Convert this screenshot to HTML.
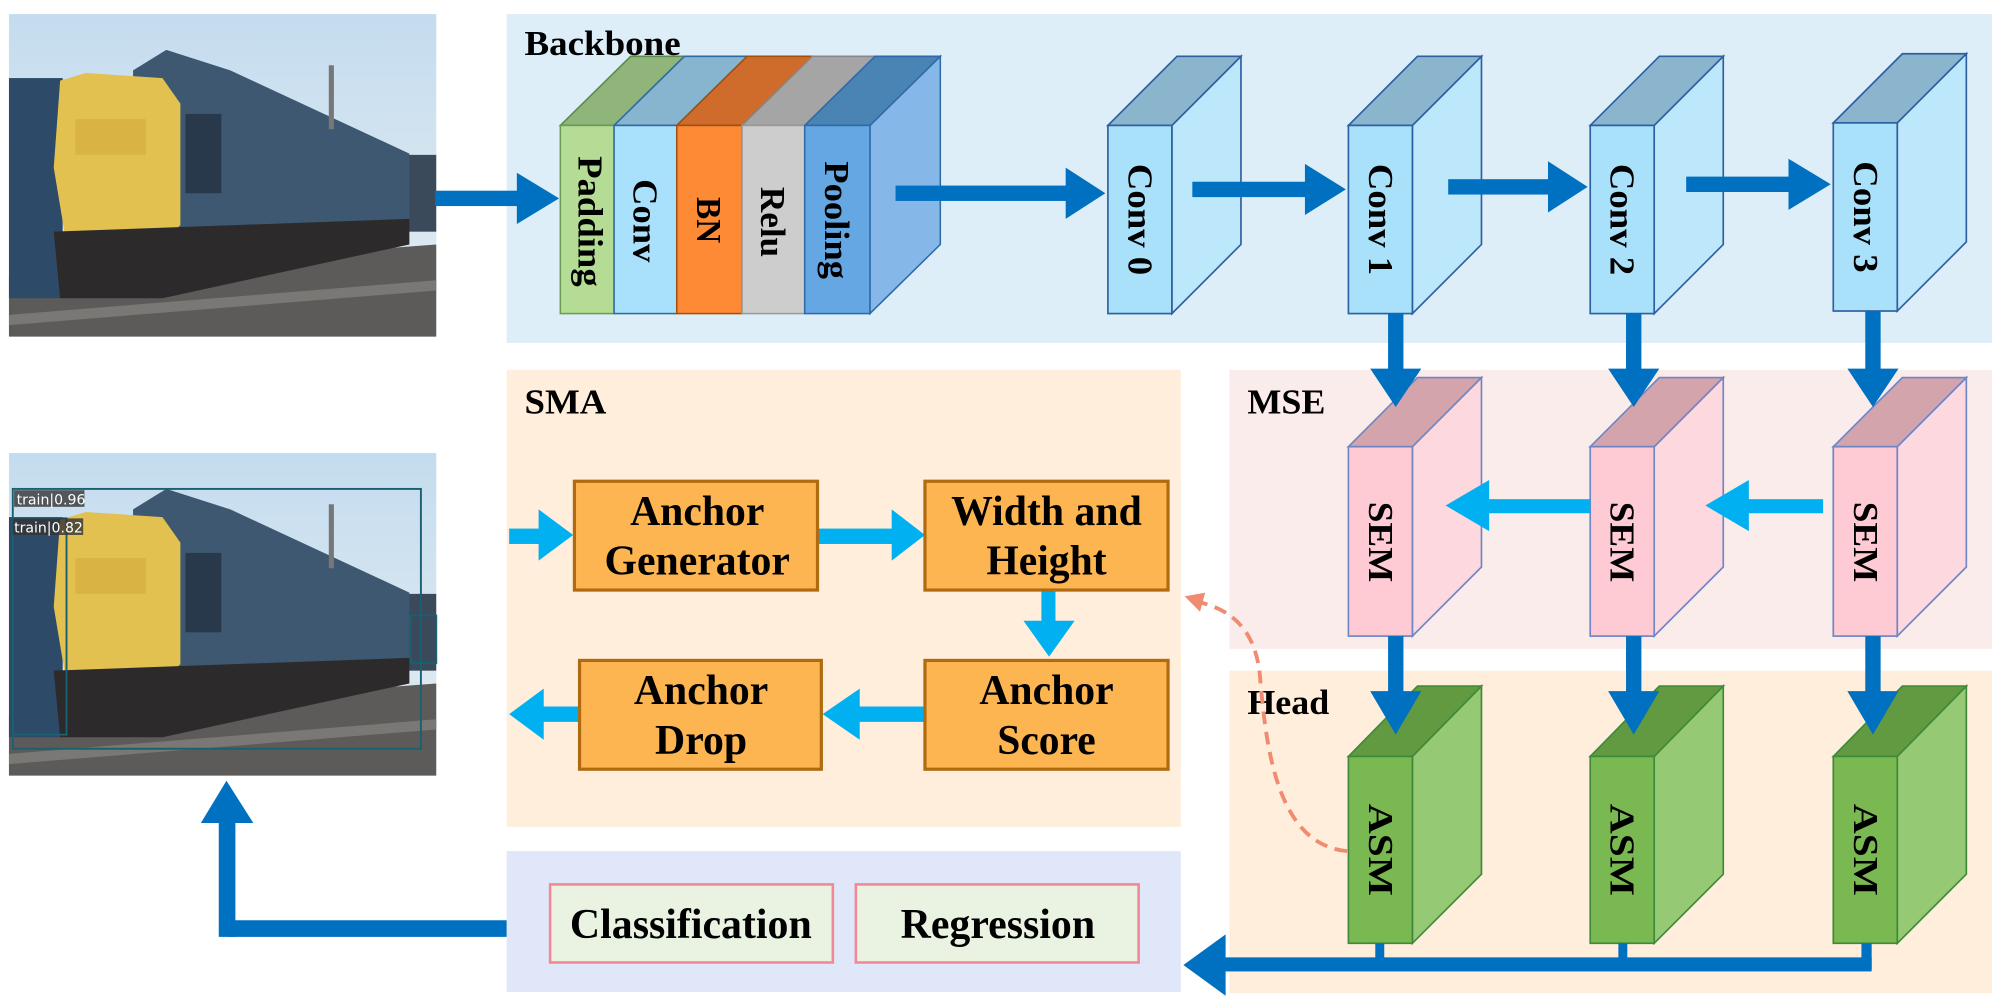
<!DOCTYPE html>
<html><head><meta charset="utf-8"><style>
html,body{margin:0;padding:0;background:#fff;}
svg{display:block;}
text{font-family:"Liberation Serif",serif;font-weight:bold;fill:#000;}
</style></head><body>
<svg width="2006" height="1006" viewBox="0 0 1568 786" preserveAspectRatio="none" xmlns="http://www.w3.org/2000/svg">
<defs>
<linearGradient id="sky" x1="0" y1="0" x2="0" y2="1"><stop offset="0" stop-color="#c4dcef"/><stop offset="1" stop-color="#e6eef2"/></linearGradient>
<g id="photo">
<rect x="0" y="0" width="334" height="252" fill="url(#sky)"/>
<polygon points="0,205 334,180 334,252 0,252" fill="#5d5b59"/>
<polygon points="0,235 334,208 334,216 0,243" fill="#7a7874"/>
<rect x="0" y="50" width="42" height="172" fill="#2d4a68"/>
<rect x="300" y="110" width="34" height="60" fill="#3a4a5a"/>
<polygon points="97,44 123,28 173,44 313,109 313,165 134,190 97,165" fill="#3d5870"/>
<polygon points="40,52 60,46 120,50 134,70 134,165 110,185 45,180 35,120" fill="#e2c150"/>
<rect x="52" y="82" width="55" height="28" fill="#d9b445"/>
<polygon points="35,170 313,160 313,180 120,222 40,222" fill="#2c2a2a"/>
<rect x="138" y="78" width="28" height="62" fill="#27394a"/>
<rect x="250" y="40" width="4" height="50" fill="#777"/>
</g>
</defs>

<!-- Panels -->
<rect x="396" y="11" width="1161" height="257" fill="#ddeef8"/>
<rect x="396" y="289" width="527" height="357" fill="#feeedb"/>
<rect x="961" y="289" width="596" height="218" fill="#fbecec"/>
<rect x="961" y="524" width="596" height="252" fill="#feeedb"/>
<rect x="396" y="665" width="527" height="110" fill="#dfe7f8"/>

<text x="410" y="43" font-size="27" textLength="122" lengthAdjust="spacingAndGlyphs">Backbone</text>
<text x="410" y="323" font-size="27" textLength="64" lengthAdjust="spacingAndGlyphs">SMA</text>
<text x="975" y="323" font-size="27" textLength="61" lengthAdjust="spacingAndGlyphs">MSE</text>
<text x="975" y="558" font-size="27" textLength="64" lengthAdjust="spacingAndGlyphs">Head</text>

<!-- Photos -->
<g transform="translate(7,11)"><use href="#photo"/></g>
<g transform="translate(7,354)"><use href="#photo"/>
<rect x="3" y="28" width="319" height="203" fill="none" stroke="#1a6070" stroke-width="1.5"/>
<rect x="3" y="51" width="42" height="169" fill="none" stroke="#1a6070" stroke-width="1.5"/>
<rect x="314" y="127" width="20" height="37" fill="none" stroke="#1a6070" stroke-width="1.5"/>
<rect x="4" y="29" width="55" height="13" fill="#333" opacity="0.8"/>
<text x="6" y="40" font-size="11" style="font-family:'DejaVu Sans',sans-serif;font-weight:normal;fill:#fff">train|0.96</text>
<rect x="3" y="51" width="55" height="13" fill="#333" opacity="0.8"/>
<text x="4" y="62" font-size="11" style="font-family:'DejaVu Sans',sans-serif;font-weight:normal;fill:#fff">train|0.82</text>
</g>

<!-- Backbone big block -->
<g stroke-width="1.2">
<polygon points="680,98 735,44 735,191 680,245" fill="#85b8e8" stroke="#2e6aa8"/>
<polygon points="438,98 493,44 535,44 480,98" fill="#8fb57a" stroke="#5c8a4a"/>
<polygon points="480,98 535,44 584,44 529,98" fill="#87b5cf" stroke="#2e6aa8"/>
<polygon points="529,98 584,44 635,44 580,98" fill="#cf6c2c" stroke="#a05010"/>
<polygon points="580,98 635,44 684,44 629,98" fill="#a5a5a5" stroke="#888"/>
<polygon points="629,98 684,44 735,44 680,98" fill="#4a84b4" stroke="#2e6aa8"/>
<rect x="438" y="98" width="42" height="147" fill="#b5dc95" stroke="#6a9a55"/>
<rect x="480" y="98" width="49" height="147" fill="#a9e0fb" stroke="#2e6aa8"/>
<rect x="529" y="98" width="51" height="147" fill="#fe8a36" stroke="#a05010"/>
<rect x="580" y="98" width="49" height="147" fill="#cdcdcd" stroke="#999"/>
<rect x="629" y="98" width="51" height="147" fill="#64a7e2" stroke="#2e6aa8"/>
</g>
<g font-size="27">
<text transform="translate(452,122) rotate(90)" textLength="102" lengthAdjust="spacingAndGlyphs">Padding</text>
<text transform="translate(495,140) rotate(90)" textLength="65" lengthAdjust="spacingAndGlyphs">Conv</text>
<text transform="translate(545,154) rotate(90)" textLength="36" lengthAdjust="spacingAndGlyphs">BN</text>
<text transform="translate(595,146) rotate(90)" textLength="55" lengthAdjust="spacingAndGlyphs">Relu</text>
<text transform="translate(645,126) rotate(90)" textLength="92" lengthAdjust="spacingAndGlyphs">Pooling</text>
</g>

<!-- Conv / SEM / ASM blocks -->
<g stroke-width="1.3">
<polygon points="916,98 970,44 970,191 916,245" fill="#bde7fb" stroke="#2e5fa0"/>
<polygon points="866,98 920,44 970,44 916,98" fill="#8ab5cd" stroke="#2e5fa0"/>
<rect x="866" y="98" width="50" height="147" fill="#a9e1fb" stroke="#2e5fa0"/>
<polygon points="1104,98 1158,44 1158,191 1104,245" fill="#bde7fb" stroke="#2e5fa0"/>
<polygon points="1054,98 1108,44 1158,44 1104,98" fill="#8ab5cd" stroke="#2e5fa0"/>
<rect x="1054" y="98" width="50" height="147" fill="#a9e1fb" stroke="#2e5fa0"/>
<polygon points="1293,98 1347,44 1347,191 1293,245" fill="#bde7fb" stroke="#2e5fa0"/>
<polygon points="1243,98 1297,44 1347,44 1293,98" fill="#8ab5cd" stroke="#2e5fa0"/>
<rect x="1243" y="98" width="50" height="147" fill="#a9e1fb" stroke="#2e5fa0"/>
<polygon points="1483,96 1537,42 1537,189 1483,243" fill="#bde7fb" stroke="#2e5fa0"/>
<polygon points="1433,96 1487,42 1537,42 1483,96" fill="#8ab5cd" stroke="#2e5fa0"/>
<rect x="1433" y="96" width="50" height="147" fill="#a9e1fb" stroke="#2e5fa0"/>

<polygon points="1104,349 1158,295 1158,443 1104,497" fill="#fdd8df" stroke="#6f86c4"/>
<polygon points="1054,349 1108,295 1158,295 1104,349" fill="#d4a4ac" stroke="#6f86c4"/>
<rect x="1054" y="349" width="50" height="148" fill="#fecbd5" stroke="#6f86c4"/>
<polygon points="1293,349 1347,295 1347,443 1293,497" fill="#fdd8df" stroke="#6f86c4"/>
<polygon points="1243,349 1297,295 1347,295 1293,349" fill="#d4a4ac" stroke="#6f86c4"/>
<rect x="1243" y="349" width="50" height="148" fill="#fecbd5" stroke="#6f86c4"/>
<polygon points="1483,349 1537,295 1537,443 1483,497" fill="#fdd8df" stroke="#6f86c4"/>
<polygon points="1433,349 1487,295 1537,295 1483,349" fill="#d4a4ac" stroke="#6f86c4"/>
<rect x="1433" y="349" width="50" height="148" fill="#fecbd5" stroke="#6f86c4"/>

<polygon points="1104,591 1158,536 1158,683 1104,737" fill="#95c973" stroke="#3f8a3a"/>
<polygon points="1054,591 1108,536 1158,536 1104,591" fill="#629a41" stroke="#3f8a3a"/>
<rect x="1054" y="591" width="50" height="146" fill="#7ab851" stroke="#3f8a3a"/>
<polygon points="1293,591 1347,536 1347,683 1293,737" fill="#95c973" stroke="#3f8a3a"/>
<polygon points="1243,591 1297,536 1347,536 1293,591" fill="#629a41" stroke="#3f8a3a"/>
<rect x="1243" y="591" width="50" height="146" fill="#7ab851" stroke="#3f8a3a"/>
<polygon points="1483,591 1537,536 1537,683 1483,737" fill="#95c973" stroke="#3f8a3a"/>
<polygon points="1433,591 1487,536 1537,536 1483,591" fill="#629a41" stroke="#3f8a3a"/>
<rect x="1433" y="591" width="50" height="146" fill="#7ab851" stroke="#3f8a3a"/>
</g>
<g font-size="27">
<text transform="translate(882,128) rotate(90)" textLength="87" lengthAdjust="spacingAndGlyphs">Conv 0</text>
<text transform="translate(1070,128) rotate(90)" textLength="87" lengthAdjust="spacingAndGlyphs">Conv 1</text>
<text transform="translate(1259,128) rotate(90)" textLength="87" lengthAdjust="spacingAndGlyphs">Conv 2</text>
<text transform="translate(1449,126) rotate(90)" textLength="87" lengthAdjust="spacingAndGlyphs">Conv 3</text>
<text transform="translate(1070,392) rotate(90)" textLength="63" lengthAdjust="spacingAndGlyphs">SEM</text>
<text transform="translate(1259,392) rotate(90)" textLength="63" lengthAdjust="spacingAndGlyphs">SEM</text>
<text transform="translate(1449,392) rotate(90)" textLength="63" lengthAdjust="spacingAndGlyphs">SEM</text>
<text transform="translate(1070,628) rotate(90)" textLength="72" lengthAdjust="spacingAndGlyphs">ASM</text>
<text transform="translate(1259,628) rotate(90)" textLength="72" lengthAdjust="spacingAndGlyphs">ASM</text>
<text transform="translate(1449,628) rotate(90)" textLength="72" lengthAdjust="spacingAndGlyphs">ASM</text>
</g>

<!-- Dark blue arrows -->
<g fill="#0070c0">
<rect x="340" y="149" width="66" height="12"/><polygon points="404,135 437,155 404,175"/>
<rect x="700" y="145" width="135" height="12"/><polygon points="833,131 864,151 833,171"/>
<rect x="932" y="142" width="90" height="12"/><polygon points="1020,128 1052,148 1020,168"/>
<rect x="1132" y="140" width="80" height="12"/><polygon points="1210,126 1241,146 1210,166"/>
<rect x="1318" y="138" width="82" height="12"/><polygon points="1398,124 1431,144 1398,164"/>

<rect x="1085" y="245" width="12" height="45"/><polygon points="1071,288 1111,288 1091,318"/>
<rect x="1271" y="245" width="12" height="45"/><polygon points="1257,288 1297,288 1277,318"/>
<rect x="1458" y="243" width="12" height="47"/><polygon points="1444,288 1484,288 1464,318"/>

<rect x="1085" y="497" width="12" height="45"/><polygon points="1071,540 1111,540 1091,574"/>
<rect x="1271" y="497" width="12" height="45"/><polygon points="1257,540 1297,540 1277,574"/>
<rect x="1458" y="497" width="12" height="45"/><polygon points="1444,540 1484,540 1464,574"/>

<rect x="1075" y="737" width="7" height="20"/>
<rect x="1265" y="737" width="7" height="20"/>
<rect x="1455" y="737" width="8" height="20"/>
<rect x="950" y="748" width="513" height="11"/><polygon points="958,730 925,754 958,778"/>

<rect x="178" y="719" width="218" height="13"/>
<rect x="171" y="640" width="13" height="92"/>
<polygon points="157,643 198,643 177,610"/>
</g>

<!-- Light blue arrows -->
<g fill="#00b0f0">
<rect x="1160" y="390" width="83" height="11"/><polygon points="1164,375 1130,395 1164,415"/>
<rect x="1365" y="390" width="60" height="11"/><polygon points="1367,375 1333,395 1367,415"/>
<rect x="398" y="413" width="25" height="12"/><polygon points="421,398 448,418 421,438"/>
<rect x="639" y="413" width="60" height="12"/><polygon points="697,398 723,418 697,438"/>
<rect x="814" y="461" width="11" height="26"/><polygon points="800,485 840,485 820,513"/>
<rect x="670" y="552" width="53" height="12"/><polygon points="672,538 643,558 672,578"/>
<rect x="423" y="552" width="30" height="12"/><polygon points="425,538 398,558 425,578"/>
</g>

<!-- Dashed curve -->
<path d="M1053,665 C1000,660 990,590 985,530 C982,490 960,475 935,470" fill="none" stroke="#f08a70" stroke-width="3" stroke-dasharray="10,6"/>
<polygon points="926,466 942,463 938,478" fill="#f08a70"/>

<!-- SMA boxes -->
<g fill="#fdb551" stroke="#b06a10" stroke-width="2.5">
<rect x="449" y="376" width="190" height="85"/>
<rect x="723" y="376" width="190" height="85"/>
<rect x="453" y="516" width="189" height="85"/>
<rect x="723" y="516" width="190" height="85"/>
</g>
<g font-size="33" text-anchor="middle">
<text x="545" y="410" textLength="105" lengthAdjust="spacingAndGlyphs">Anchor</text>
<text x="545" y="449" textLength="145" lengthAdjust="spacingAndGlyphs">Generator</text>
<text x="818" y="410" textLength="149" lengthAdjust="spacingAndGlyphs">Width and</text>
<text x="818" y="449" textLength="94" lengthAdjust="spacingAndGlyphs">Height</text>
<text x="548" y="550" textLength="105" lengthAdjust="spacingAndGlyphs">Anchor</text>
<text x="548" y="589" textLength="72" lengthAdjust="spacingAndGlyphs">Drop</text>
<text x="818" y="550" textLength="105" lengthAdjust="spacingAndGlyphs">Anchor</text>
<text x="818" y="589" textLength="77" lengthAdjust="spacingAndGlyphs">Score</text>
</g>

<!-- Classification / Regression -->
<g fill="#eaf3e2" stroke="#f08896" stroke-width="2">
<rect x="430" y="691" width="221" height="61"/>
<rect x="669" y="691" width="221" height="61"/>
</g>
<g font-size="33" text-anchor="middle">
<text x="540" y="733" textLength="189" lengthAdjust="spacingAndGlyphs">Classification</text>
<text x="780" y="733" textLength="152" lengthAdjust="spacingAndGlyphs">Regression</text>
</g>
</svg>
</body></html>
